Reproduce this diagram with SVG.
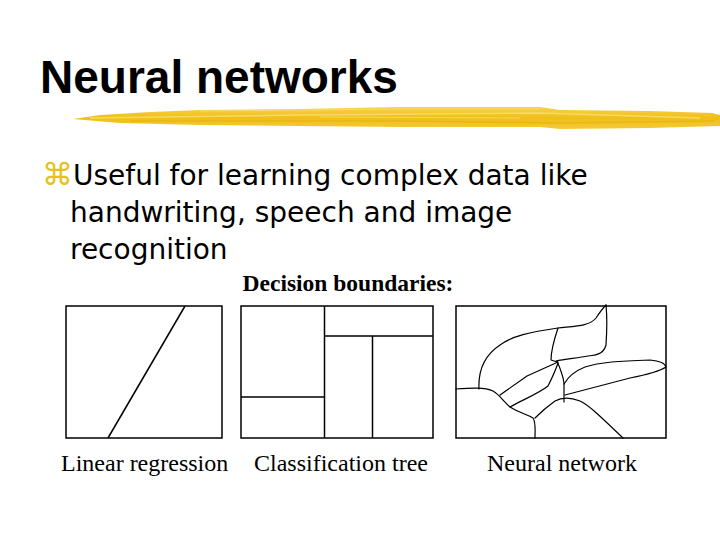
<svg xmlns="http://www.w3.org/2000/svg" width="720" height="540" viewBox="0 0 720 540">
<style>
.title{font-family:"Liberation Sans",Arial,sans-serif;font-weight:bold;font-size:46px;fill:#000}
.body{font-family:"DejaVu Sans",Verdana,sans-serif;font-size:28px;fill:#000}
.bullet{font-family:"DejaVu Sans",sans-serif;font-size:31px;fill:#E8C020}
.serif{font-family:"Liberation Serif","Times New Roman",serif;font-size:24px;fill:#000}
.bold{font-weight:bold;font-size:23.5px}
.frame{fill:#fff;stroke:#000;stroke-width:1.5}
.ln{fill:none;stroke:#000;stroke-width:1.5}
.cv{fill:none;stroke:#000;stroke-width:1.2;stroke-linejoin:round;stroke-linecap:round}
</style>
<defs>
<linearGradient id="brush" x1="0" y1="0" x2="0" y2="1">
<stop offset="0" stop-color="#F7D24A"/>
<stop offset="0.5" stop-color="#F0BE18"/>
<stop offset="1" stop-color="#F4CA36"/>
</linearGradient>
</defs>
<rect width="720" height="540" fill="#fff"/>
<text class="title" x="40" y="93">Neural networks</text>
<g id="brush-stroke">
<path d="M73,119 L100,115 L150,112 L200,110 L300,109 L400,107 L540,107 L560,110 L650,111 L712,113 L720,115 L720,126 L650,128 L560,129 L540,127 L400,127 L300,126 L200,125 L120,123 Z" fill="url(#brush)"/>
<path d="M90,118 L300,115 L540,113 L700,118" stroke="#F9DE78" stroke-width="1.5" fill="none" opacity="0.8"/>
<path d="M130,121 L400,121 L560,123 L715,121" stroke="#E6B410" stroke-width="1.5" fill="none" opacity="0.8"/>
<path d="M200,111 L400,109 L540,109" stroke="#F9E08A" stroke-width="1" fill="none" opacity="0.7"/>
<path d="M320,117 L520,118" stroke="#FAE496" stroke-width="1" fill="none" opacity="0.6"/>
</g>
<text class="bullet" x="42" y="185">⌘</text>
<text class="body" x="73" y="185">Useful for learning complex data like</text>
<text class="body" x="70" y="222">handwriting, speech and image</text>
<text class="body" x="70" y="259">recognition</text>
<text class="serif bold" x="348" y="291" text-anchor="middle">Decision boundaries:</text>
<g id="linear-regression">
<rect class="frame" x="66" y="306" width="156" height="132"/>
<path class="ln" d="M185,306 L108,438"/>
</g>
<g id="classification-tree">
<rect class="frame" x="241" y="306" width="192" height="132"/>
<path class="ln" d="M324.5,306 V438 M241,397 H324.5 M324.5,336 H433 M372.5,336 V438"/>
</g>
<g id="neural-network">
<rect class="frame" x="456" y="306" width="210" height="132"/>
<g id="connectors">
<path class="cv" d="M456,389 C470,388 485,387 493,391 C500,395 503,401 510,407 C518,412 528,415 533,418 C536,422 535,430 535,438"/>
<path class="cv" d="M479,389 C478,370 485,355 500,345 C512,336 530,332 558,328 C575,326 590,326 596,318 C600,312 603,308 606,305"/>
<path class="cv" d="M606,305 C607,315 607,330 606,345 C604,352 600,355 588,356 C578,358 565,359 556,361"/>
<path class="cv" d="M558,328 C554,340 551,352 551,360 L557,362"/>
<path class="cv" d="M558,362 L527,376 L500,395"/>
<path class="cv" d="M558,363 C555,372 551,380 548,386 C538,394 522,400 510,407"/>
<path class="cv" d="M557,361 C560,368 563,375 564,383 L564,402"/>
<path class="cv" d="M564,384 C568,377 575,371 585,367 C600,362 620,361 650,360 C660,361 665,363 666,367 C660,371 645,375 630,378 L565,395"/>
<path class="cv" d="M535,418 C540,413 548,406 555,401 C562,397 570,397 580,401 C590,406 600,416 623,438"/>
</g>
</g>
<text class="serif" x="61" y="471">Linear regression</text>
<text class="serif" x="254" y="471">Classification tree</text>
<text class="serif" x="487" y="471">Neural network</text>
</svg>
